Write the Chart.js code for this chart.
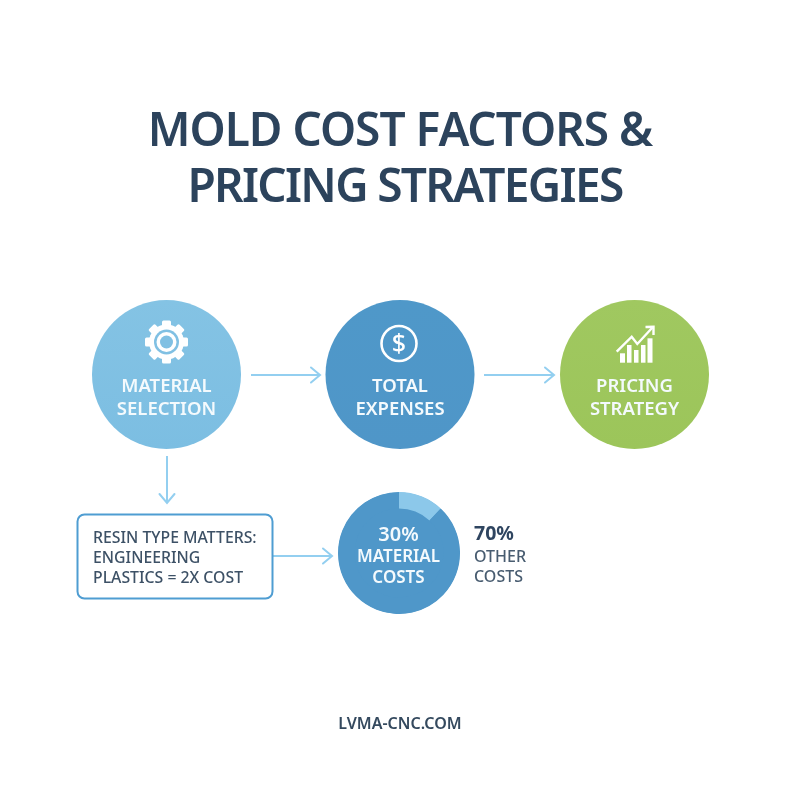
<!DOCTYPE html>
<html><head><meta charset="utf-8">
<style>
html,body{margin:0;padding:0;background:#fff;width:800px;height:800px;overflow:hidden}
#wrap{position:relative;width:800px;height:800px}
#main{position:absolute;left:0;top:0}
#ring{position:absolute;left:338px;top:492px}
</style>
<script src="https://cdn.jsdelivr.net/npm/chart.js@4"></script>
</head><body>
<div id="wrap">
<canvas id="main" width="800" height="800"></canvas>
<canvas id="ring" width="122" height="122"></canvas>
</div>
<script>
// --- data ---
const titleLines = ["MOLD COST FACTORS &", "PRICING STRATEGIES"];
const nodeNames = [["MATERIAL","SELECTION"],["TOTAL","EXPENSES"],["PRICING","STRATEGY"]];
const nodeX = [166.5, 400, 634.5];
const nodeY = [374.5, 374.5, 374.5];
const noteLines = ["RESIN TYPE MATTERS:", "ENGINEERING", "PLASTICS = 2X COST"];
const discLines = ["30%", "MATERIAL", "COSTS"];
const sideLines = ["70%", "OTHER", "COSTS"];
const footer = "LVMA-CNC.COM";
const discX = [399];
const discY = [553];
// share of the disc's rim the pale wedge covers in the picture, then the remainder
const wedgeShares = [12, 88];
const wedgeNames = ["Highlighted", "Remainder"];
const flowFromX = [251, 484, 167, 273];
const flowFromY = [375, 375, 456, 556];
const flowToX   = [320, 554, 167, 332];
const flowToY   = [375, 375, 503, 556];

const FF = '"Noto Sans", sans-serif';
const ARROW = '#93cff0';
function vGrad(ctx, y0, y1, a, b){const g=ctx.createLinearGradient(0,y0,0,y1);g.addColorStop(0,a);g.addColorStop(1,b);return g;}
const nodeCols = [['#84c3e4','#7cbee2'],['#4f98c9','#4f96c8'],['#a0c860','#9cc55a']];

// y is the centre of the capital letters
function txt(ctx,s,x,y,weight,size,col,align,sp){
  ctx.font=weight+' '+size+'px '+FF;ctx.fillStyle=col;ctx.textAlign=align||'center';ctx.textBaseline='alphabetic';
  ctx.letterSpacing=(sp||0)+'px';ctx.fillText(s,x,y+size*0.357);ctx.letterSpacing='0px';
}
function gear(ctx,cx,cy,fill){
  ctx.save();ctx.translate(cx,cy);ctx.fillStyle='#fff';
  for(let i=0;i<8;i++){ctx.save();ctx.rotate(i*Math.PI/4);ctx.beginPath();ctx.roundRect(-4.5,-21.5,9,10,1.5);ctx.fill();ctx.restore();}
  ctx.beginPath();ctx.arc(0,0,17.5,0,7);ctx.fill();
  ctx.fillStyle=fill;ctx.beginPath();ctx.arc(0,0,12.5,0,7);ctx.fill();
  ctx.fillStyle='#fff';ctx.beginPath();ctx.arc(0,0,10,0,7);ctx.fill();
  ctx.fillStyle=fill;ctx.beginPath();ctx.arc(0,0,6.5,0,7);ctx.fill();
  ctx.restore();
}
function dollar(ctx,cx,cy){
  ctx.save();ctx.strokeStyle='#fff';ctx.lineWidth=2.6;ctx.beginPath();ctx.arc(cx,cy,17.5,0,7);ctx.stroke();ctx.restore();
  txt(ctx,'$',cx,cy,500,25,'#fff');
}
function growth(ctx,cx,cy){
  ctx.save();ctx.translate(cx,cy);ctx.fillStyle='#fff';
  const bars=[[-14.5,-4.7,5,9.4],[-7.5,-13,4.5,17.7],[-0.5,-8,4.5,12.7],[6.5,-13,4.5,17.7],[13,-19.7,5,24.4]];
  bars.forEach(b=>ctx.fillRect(b[0],b[1],b[2],b[3]));
  ctx.strokeStyle='#fff';ctx.lineWidth=2.4;ctx.lineJoin='miter';
  ctx.beginPath();ctx.moveTo(-17.8,-6.3);ctx.lineTo(-2.8,-21.3);ctx.lineTo(2.8,-14);ctx.lineTo(18.2,-30.8);ctx.stroke();
  ctx.beginPath();ctx.moveTo(11,-31);ctx.lineTo(19,-31.3);ctx.lineTo(19,-23);ctx.stroke();
  ctx.restore();
}

const decor = {
  id:'decor',
  afterDatasetsDraw(c){
    const ctx=c.ctx, X=c.scales.x, Y=c.scales.y;
    const px=v=>X.getPixelForValue(v), py=v=>Y.getPixelForValue(v);
    txt(ctx,titleLines[0],px(400),py(129.5),600,46,'#2c435c','center',-1);
    txt(ctx,titleLines[1],px(405),py(185.5),600,46,'#2c435c','center',-1.66);
    nodeNames.forEach((n,i)=>{
      txt(ctx,n[0],px(nodeX[i]),py(385),600,18.5,'#f4fafd');
      txt(ctx,n[1],px(nodeX[i]),py(408),600,18.5,'#f4fafd');
    });
    gear(ctx,px(nodeX[0]),py(342),'#80c0e3');
    dollar(ctx,px(nodeX[1]-1),py(343.5));
    growth(ctx,px(nodeX[2]),py(358));
    ctx.save();ctx.strokeStyle='#4f9dd2';ctx.lineWidth=2;ctx.fillStyle='#fff';
    ctx.beginPath();ctx.roundRect(px(77.5),py(514.5),195,84,7);ctx.fill();ctx.stroke();ctx.restore();
    noteLines.forEach((s,i)=>txt(ctx,s,px(93),py(537+i*20),500,15.8,'#3d5166','left'));
    txt(ctx,discLines[0],px(398.5),py(533.5),600,20,'#f4fafd');
    txt(ctx,discLines[1],px(398.5),py(556),600,17,'#f4fafd');
    txt(ctx,discLines[2],px(398.5),py(577),600,17,'#f4fafd');
    txt(ctx,sideLines[0],px(474),py(533),700,19.5,'#2f4560','left');
    txt(ctx,sideLines[1],px(474),py(556),500,16,'#485c70','left');
    txt(ctx,sideLines[2],px(474),py(576),500,16,'#485c70','left');
    txt(ctx,footer,px(400),py(723),600,16,'#34495e');
  }
};

const arrowDatasets = flowFromX.map((x,i)=>{
  const tx=flowToX[i], ty=flowToY[i], y=flowFromY[i];
  const horizontal = y===ty;
  const head = horizontal
    ? [{x:tx-9,y:ty-7.5},{x:tx,y:ty},{x:tx-9,y:ty+7.5}]
    : [{x:tx-7.5,y:ty-9},{x:tx,y:ty},{x:tx+7.5,y:ty-9}];
  return [
    {type:'line',data:[{x,y},{x:tx,y:ty}],borderColor:ARROW,borderWidth:2,pointRadius:0,order:2},
    {type:'line',data:head,borderColor:ARROW,borderWidth:2,pointRadius:0,borderCapStyle:'round',order:2}
  ];
}).flat();

new Chart(document.getElementById('main'),{
  type:'scatter',
  data:{datasets:[
    {data:nodeX.map((x,i)=>({x,y:nodeY[i]})),pointRadius:74.5,pointHoverRadius:74.5,borderWidth:0,pointBorderWidth:0,
     pointBackgroundColor:(c)=>{const i=c.dataIndex||0;return vGrad(c.chart.ctx,300,449,nodeCols[i][0],nodeCols[i][1]);},order:1},
    {data:discX.map((x,i)=>({x,y:discY[i]})),pointRadius:60.5,pointHoverRadius:60.5,pointBorderWidth:0,pointBackgroundColor:'#4f97c9',order:1},
    ...arrowDatasets
  ]},
  options:{responsive:false,animation:false,devicePixelRatio:1,layout:{padding:0,autoPadding:false},
    plugins:{legend:{display:false},tooltip:{enabled:false},title:{display:false}},
    events:[],
    scales:{x:{type:'linear',min:0,max:800,display:false},y:{type:'linear',min:0,max:800,reverse:true,display:false}}},
  plugins:[decor]
});

new Chart(document.getElementById('ring'),{
  type:'doughnut',
  data:{labels:wedgeNames,datasets:[{data:wedgeShares,backgroundColor:['#8cc8ea','#4f97c9'],borderWidth:0}]},
  options:{responsive:false,animation:false,devicePixelRatio:1,cutout:'73%',events:[],layout:{padding:0},
    plugins:{legend:{display:false},tooltip:{enabled:false}}}
});
</script>
</body></html>
